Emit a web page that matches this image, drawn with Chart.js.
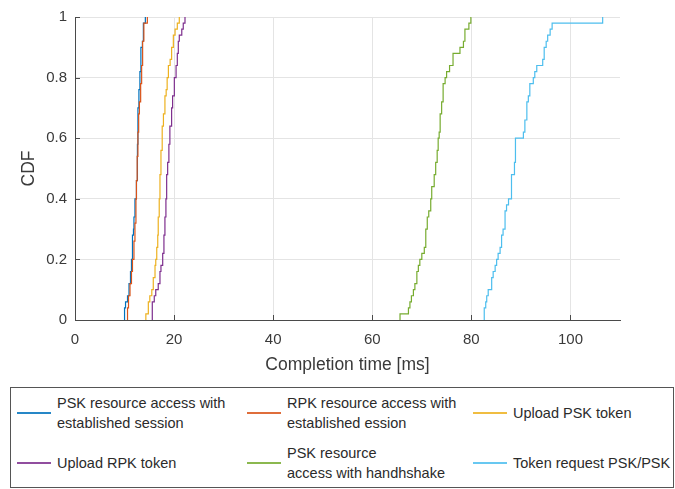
<!DOCTYPE html>
<html>
<head>
<meta charset="utf-8">
<title>Completion time CDF</title>
<script src="https://cdn.jsdelivr.net/npm/chart.js@4/dist/chart.umd.min.js"></script>
<style>
    body { margin: 0; background: #fff; font-family: "Liberation Sans", Arial, sans-serif; }
    #wrap { position: relative; width: 675px; height: 489px; overflow: hidden; }
    #cdfChart { position: absolute; left: 0; top: 0; }
    .legend-box {
        position: absolute; left: 10px; top: 387px; width: 664px; height: 101px;
        box-sizing: border-box; border: 1px solid #555;
    }
    .legend-item {
        position: absolute; display: flex; align-items: center;
        font-size: 14.5px; line-height: 20px; color: #2b2b2b;
        white-space: nowrap;
    }
    .legend-item .swatch { width: 34px; height: 2px; margin-right: 6px; flex: none; opacity: 0.85; }
</style>
</head>
<body>
<div id="wrap">
    <canvas id="cdfChart" width="675" height="380"></canvas>
    <div class="legend-box" id="legendBox"></div>
</div>
<script>
// Ejes
const xTicks = [0, 20, 40, 60, 80, 100];
const yTicks = [0, 0.2, 0.4, 0.6, 0.8, 1];

// Tiempos de cada prueba (ms), ordenados
const pskSession = [10.0, 10.0, 10.2, 10.6, 10.9, 10.9, 11.2, 11.2, 11.4, 11.4,
    11.6, 11.6, 11.6, 11.6, 11.8, 11.9, 11.9, 12.1, 12.1, 12.1,
    12.4, 12.4, 12.4, 12.6, 12.6, 12.6, 12.6, 12.6, 12.6, 12.7,
    12.7, 12.7, 12.7, 12.7, 12.7, 12.9, 12.9, 12.9, 13.1, 13.1,
    13.1, 13.3, 13.3, 13.3, 13.3, 13.6, 13.8, 13.8, 13.8, 14.2];
const rpkSession = [10.6, 10.6, 10.8, 10.8, 11.1, 11.1, 11.4, 11.4, 11.6, 11.6,
    11.9, 11.9, 11.9, 12.1, 12.1, 12.1, 12.3, 12.3, 12.3, 12.3,
    12.4, 12.4, 12.4, 12.55, 12.55, 12.55, 12.55, 12.7, 12.7, 12.7,
    12.7, 12.85, 12.85, 12.85, 13.0, 13.0, 13.25, 13.25, 13.25, 13.45,
    13.45, 13.45, 13.65, 13.65, 13.65, 13.65, 13.9, 13.9, 13.9, 14.6];
const uploadPsk = [14.3, 14.8, 14.8, 15.1, 15.5, 15.8, 15.8, 16.15, 16.15, 16.3,
    16.5, 16.5, 16.7, 16.7, 16.8, 16.8, 16.8, 17.0, 17.0, 17.0,
    17.15, 17.15, 17.15, 17.15, 17.35, 17.35, 17.35, 17.35, 17.6, 17.6,
    17.6, 17.6, 17.85, 17.85, 18.15, 18.15, 18.15, 18.4, 18.6, 18.6,
    18.85, 18.85, 19.2, 19.5, 19.5, 19.85, 19.85, 20.2, 20.65, 21.05];
const uploadRpk = [15.6, 15.6, 15.6, 16.0, 16.3, 16.8, 17.15, 17.15, 17.35, 17.7,
    17.7, 17.95, 17.95, 17.95, 18.15, 18.15, 18.15, 18.35, 18.35, 18.35,
    18.5, 18.5, 18.5, 18.5, 18.7, 18.7, 18.95, 18.95, 18.95, 19.15,
    19.15, 19.15, 19.5, 19.5, 19.5, 19.7, 19.7, 20.05, 20.05, 20.05,
    20.4, 20.4, 20.65, 20.65, 20.85, 20.85, 21.05, 21.55, 21.85, 22.2];
const pskHandshake = [65.6, 67.3, 67.6, 67.9, 68.3, 68.6, 69.0, 69.0, 69.3, 69.6,
    70.0, 70.5, 70.8, 70.8, 70.8, 71.1, 71.1, 71.4, 71.8, 71.8,
    72.0, 72.0, 72.5, 72.5, 72.8, 72.8, 73.1, 73.1, 73.3, 73.3,
    73.5, 73.7, 73.7, 73.7, 74.0, 74.0, 74.3, 74.3, 74.3, 74.7,
    75.0, 75.6, 76.3, 76.3, 77.7, 78.4, 78.7, 78.7, 79.5, 79.9];
const tokenRequest = [82.6, 82.6, 82.9, 83.1, 83.4, 84.1, 84.1, 84.4, 84.8, 85.1,
    85.4, 85.8, 86.1, 86.1, 86.4, 86.8, 86.8, 86.8, 87.1, 87.5,
    88.1, 88.1, 88.1, 88.1, 88.7, 88.7, 88.9, 88.9, 88.9, 88.9,
    90.5, 90.8, 90.8, 91.2, 91.2, 91.2, 91.5, 91.8, 91.8, 92.5,
    92.8, 93.2, 94.4, 94.7, 94.7, 95.1, 95.4, 95.9, 96.3, 106.5];

const seriesNames = [
    ['PSK resource access with', 'established session'],
    ['RPK resource access with', 'established ession'],
    ['Upload PSK token'],
    ['Upload RPK token'],
    ['PSK resource', 'access with handhshake'],
    ['Token request PSK/PSK']
];
const seriesData = [pskSession, rpkSession, uploadPsk, uploadRpk, pskHandshake, tokenRequest];
const seriesColors = ['#0072BD', '#D95319', '#EDB120', '#7E2F8E', '#77AC30', '#4DBEEE'];

// CDF empírica: un escalón de 1/n por muestra
function ecdf(values) {
    const n = values.length;
    const pts = [{ x: values[0], y: 0 }];
    values.forEach((v, i) => pts.push({ x: v, y: (i + 1) / n }));
    return pts;
}

const axisColor = '#4a4a4a';
const textColor = '#3a3a3a';
const font = { family: '"Liberation Sans", Arial, sans-serif' };

// marcas de los ejes hacia adentro, como en MATLAB
const inwardTicks = {
    id: 'inwardTicks',
    afterDatasetsDraw(chart) {
        const { ctx, chartArea, scales } = chart;
        ctx.save();
        ctx.strokeStyle = axisColor;
        ctx.lineWidth = 1;
        ctx.beginPath();
        scales.x.ticks.forEach((t, i) => {
            const px = Math.round(scales.x.getPixelForTick(i)) + 0.5;
            ctx.moveTo(px, chartArea.bottom);
            ctx.lineTo(px, chartArea.bottom - 5);
        });
        scales.y.ticks.forEach((t, i) => {
            const py = Math.round(scales.y.getPixelForTick(i)) + 0.5;
            ctx.moveTo(chartArea.left, py);
            ctx.lineTo(chartArea.left + 5, py);
        });
        ctx.stroke();
        ctx.restore();
    }
};

const ctx = document.getElementById('cdfChart').getContext('2d');
new Chart(ctx, {
    type: 'line',
    data: {
        datasets: seriesData.map((vals, i) => ({
            label: seriesNames[i].join(' '),
            data: ecdf(vals),
            borderColor: seriesColors[i],
            borderWidth: 1.2,
            pointRadius: 0,
            stepped: 'before',
            tension: 0,
            fill: false,
            order: seriesData.length - i
        }))
    },
    options: {
        responsive: false,
        animation: false,
        devicePixelRatio: 1,
        layout: { padding: { left: 0, top: 14, right: 55, bottom: 0 } },
        plugins: { legend: { display: false }, tooltip: { enabled: false } },
        scales: {
            x: {
                type: 'linear',
                min: 0,
                max: 110,
                afterBuildTicks: s => { s.ticks = xTicks.map(v => ({ value: v })); },
                afterFit: s => { s.height = 60; },
                grid: { color: '#e4e4e4', drawTicks: false },
                border: { display: true, color: axisColor, width: 1 },
                ticks: { padding: 11, color: textColor, font: { ...font, size: 15 } },
                title: {
                    display: true,
                    text: 'Completion time [ms]',
                    color: textColor,
                    font: { ...font, size: 17.5 },
                    padding: { top: 0, bottom: 4.5 }
                }
            },
            y: {
                type: 'linear',
                min: 0,
                max: 1,
                afterBuildTicks: s => { s.ticks = yTicks.map(v => ({ value: v })); },
                afterFit: s => { s.width = 75; },
                grid: { color: '#e4e4e4', drawTicks: false },
                border: { display: true, color: axisColor, width: 1 },
                ticks: {
                    padding: 8,
                    color: textColor,
                    font: { ...font, size: 15 },
                    callback: v => String(v)
                },
                title: {
                    display: true,
                    text: 'CDF',
                    color: textColor,
                    font: { ...font, size: 17.5 },
                    padding: { top: 19, bottom: 0 }
                }
            }
        }
    },
    plugins: [inwardTicks]
});

// Leyenda en tres columnas; cada fila centrada en su altura
const legendBox = document.getElementById('legendBox');
const colLeft = [6, 236, 462];
const rowMid = [25, 75];
seriesNames.forEach((name, i) => {
    const item = document.createElement('div');
    item.className = 'legend-item';
    item.style.left = colLeft[i % 3] + 'px';
    item.style.top = (rowMid[Math.floor(i / 3)] - name.length * 10) + 'px';
    const swatch = document.createElement('span');
    swatch.className = 'swatch';
    swatch.style.background = seriesColors[i];
    const label = document.createElement('span');
    label.innerHTML = name.join('<br>');
    item.appendChild(swatch);
    item.appendChild(label);
    legendBox.appendChild(item);
});
</script>
</body>
</html>
